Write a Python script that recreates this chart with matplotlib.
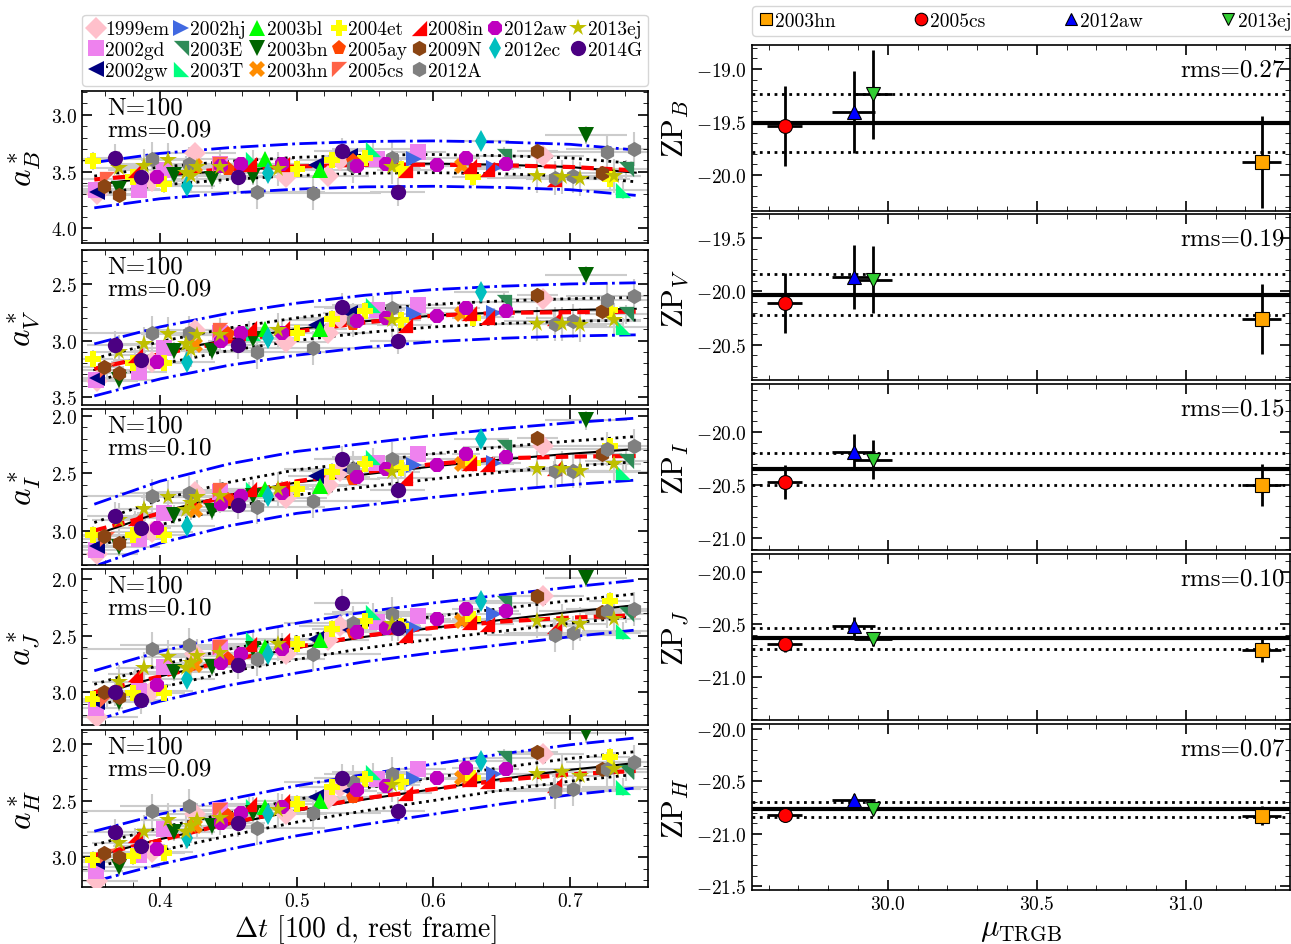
import numpy as np
import matplotlib.pyplot as plt
from matplotlib.lines import Line2D
from matplotlib.ticker import MultipleLocator

plt.rcParams.update({
    'font.family': 'serif', 'font.serif': ['cmr10'],
    'mathtext.fontset': 'cm', 'axes.formatter.use_mathtext': True,
    'xtick.direction': 'in', 'ytick.direction': 'in',
    'xtick.top': True, 'ytick.right': True,
    'xtick.major.size': 7, 'ytick.major.size': 7,
    'xtick.minor.size': 3.5, 'ytick.minor.size': 3.5,
    'xtick.major.width': 1.2, 'ytick.major.width': 1.2,
    'axes.linewidth': 1.2,
})

# ---- supernova styles ----
tri_tr = [(-1, 1), (1, 1), (1, -1), (-1, 1)]
tri_bl = [(-1, -1), (1, -1), (-1, 1), (-1, -1)]
tri_tl = [(-1, 1), (1, 1), (-1, -1), (-1, 1)]
tri_br = [(-1, -1), (1, -1), (1, 1), (-1, -1)]

sn_names = ['1999em', '2002gd', '2002gw', '2002hj', '2003E', '2003T', '2003bl',
            '2003bn', '2003hn', '2004et', '2005ay', '2005cs', '2008in', '2009N',
            '2012A', '2012aw', '2012ec', '2013ej', '2014G']
sn_colors = ['pink', 'violet', 'navy', 'royalblue', 'seagreen', 'springgreen', 'lime',
             'darkgreen', 'darkorange', 'yellow', 'orangered', 'tomato', 'red',
             'saddlebrown', 'gray', 'm', 'c', 'y', 'indigo']
sn_markers = ['D', 's', '<', '>', tri_tr, tri_bl, '^', 'v', 'X', 'P', 'p', tri_tl,
              tri_br, 'h', 'h', '8', 'd', '*', 'o']

# ---- epochs (Delta t, 100 d) ----
epoch = {
    '1999em': [0.354, 0.394, 0.426, 0.492, 0.523, 0.532, 0.680],
    '2002gd': [0.353, 0.385, 0.403, 0.444, 0.559, 0.589],
    '2002gw': [0.354, 0.514, 0.539],
    '2002hj': [0.586, 0.644],
    '2003E': [0.652, 0.741],
    '2003T': [0.468, 0.556, 0.739],
    '2003bl': [0.477, 0.517],
    '2003bn': [0.370, 0.410, 0.438, 0.468, 0.712],
    '2003hn': [0.426, 0.621],
    '2004et': [0.351, 0.380, 0.403, 0.500, 0.526, 0.550, 0.576, 0.629, 0.729],
    '2005ay': [0.450, 0.541],
    '2005cs': [0.361, 0.444],
    '2008in': [0.382, 0.465, 0.489, 0.579, 0.626, 0.639, 0.688],
    '2009N': [0.359, 0.370, 0.676, 0.723],
    '2012A': [0.394, 0.421, 0.471, 0.512, 0.541, 0.570, 0.689, 0.702, 0.727, 0.747],
    '2012aw': [0.398, 0.445, 0.459, 0.489, 0.544, 0.565, 0.603, 0.624, 0.653],
    '2012ec': [0.420, 0.479, 0.635],
    '2013ej': [0.370, 0.388, 0.406, 0.419, 0.423, 0.427, 0.444, 0.486, 0.570, 0.676,
               0.694, 0.707, 0.732],
    '2014G': [0.367, 0.386, 0.457, 0.533, 0.574],
}

a_B = {
    '1999em': [3.70, 3.58, 3.34, 3.55, 3.54, 3.40, 3.36],
    '2002gd': [3.66, 3.66, 3.49, 3.43, 3.39, 3.33],
    '2002gw': [3.68, 3.44, 3.36],
    '2002hj': [3.39, 3.47],
    '2003E': [3.36, 3.48],
    '2003T': [3.39, 3.30, 3.66],
    '2003bl': [3.39, 3.49],
    '2003bn': [3.65, 3.53, 3.57, 3.54, 3.18],
    '2003hn': [3.45, 3.45],
    '2004et': [3.405, 3.55, 3.61, 3.48, 3.40, 3.38, 3.48, 3.55, 3.57],
    '2005ay': [3.48, 3.41],
    '2005cs': [3.57, 3.43],
    '2008in': [3.49, 3.43, 3.43, 3.49, 3.45, 3.48, 3.57],
    '2009N': [3.63, 3.71, 3.32, 3.51],
    '2012A': [3.39, 3.43, 3.68, 3.69, 3.45, 3.38, 3.56, 3.54, 3.33, 3.30],
    '2012aw': [3.55, 3.45, 3.43, 3.43, 3.45, 3.43, 3.44, 3.38, 3.43],
    '2012ec': [3.63, 3.51, 3.23],
    '2013ej': [3.47, 3.45, 3.40, 3.51, 3.54, 3.46, 3.46, 3.48, 3.46, 3.54, 3.55, 3.57, 3.54],
    '2014G': [3.38, 3.55, 3.55, 3.32, 3.68],
}

a_V = {
    '1999em': [3.36, 3.19, 2.91, 3.01, 2.93, 2.80, 2.63],
    '2002gd': [3.35, 3.28, 3.07, 2.93, 2.73, 2.69],
    '2002gw': [3.33, 2.86, 2.76],
    '2002hj': [2.77, 2.76],
    '2003E': [2.66, 2.77],
    '2003T': [2.93, 2.685, 2.88],
    '2003bl': [2.90, 2.90],
    '2003bn': [3.35, 3.09, 3.09, 2.99, 2.42],
    '2003hn': [3.04, 2.77],
    '2004et': [3.16, 3.20, 3.20, 2.93, 2.81, 2.74, 2.82, 2.80, 2.73],
    '2005ay': [2.94, 2.85],
    '2005cs': [3.26, 2.91],
    '2008in': [3.13, 2.89, 2.885, 2.86, 2.76, 2.79, 2.80],
    '2009N': [3.23, 3.29, 2.60, 2.74],
    '2012A': [2.935, 2.93, 3.10, 3.07, 2.82, 2.71, 2.85, 2.83, 2.64, 2.61],
    '2012aw': [3.19, 3.00, 2.935, 2.93, 2.83, 2.80, 2.78, 2.71, 2.74],
    '2012ec': [3.19, 2.98, 2.57],
    '2013ej': [3.10, 3.03, 2.94, 3.03, 3.08, 2.95, 2.95, 2.91, 2.82, 2.85, 2.85, 2.86, 2.82],
    '2014G': [3.04, 3.17, 3.04, 2.70, 3.00],
}

a_I = {
    '1999em': [3.20, 3.01, 2.665, 2.72, 2.60, 2.48, 2.26],
    '2002gd': [3.17, 3.07, 2.85, 2.66, 2.41, 2.33],
    '2002gw': [3.13, 2.52, 2.47],
    '2002hj': [2.43, 2.41],
    '2003E': [2.27, 2.39],
    '2003T': [2.64, 2.36, 2.49],
    '2003bl': [2.64, 2.61],
    '2003bn': [3.14, 2.86, 2.83, 2.70, 2.04],
    '2003hn': [2.82, 2.42],
    '2004et': [3.04, 3.04, 3.04, 2.64, 2.49, 2.42, 2.45, 2.41, 2.26],
    '2005ay': [2.73, 2.55],
    '2005cs': [3.07, 2.65],
    '2008in': [2.89, 2.64, 2.63, 2.54, 2.41, 2.42, 2.45],
    '2009N': [3.05, 3.11, 2.19, 2.33],
    '2012A': [2.70, 2.67, 2.79, 2.74, 2.46, 2.38, 2.48, 2.48, 2.29, 2.26],
    '2012aw': [2.98, 2.77, 2.70, 2.67, 2.53, 2.46, 2.43, 2.33, 2.36],
    '2012ec': [2.96, 2.70, 2.20],
    '2013ej': [2.91, 2.81, 2.71, 2.82, 2.76, 2.71, 2.70, 2.64, 2.49, 2.46, 2.46, 2.48, 2.42],
    '2014G': [2.87, 2.98, 2.78, 2.38, 2.65],
}

a_J = {
    '1999em': [3.22, 2.99, 2.66, 2.66, 2.54, 2.41, 2.15],
    '2002gd': [3.14, 2.99, 2.78, 2.60, 2.38, 2.33],
    '2002gw': [3.09, 2.53, 2.45],
    '2002hj': [2.43, 2.31],
    '2003E': [2.21, 2.31],
    '2003T': [2.53, 2.29, 2.46],
    '2003bl': [2.60, 2.54],
    '2003bn': [3.09, 2.82, 2.78, 2.62, 1.99],
    '2003hn': [2.76, 2.37],
    '2004et': [3.06, 3.01, 3.01, 2.57, 2.44, 2.37, 2.41, 2.35, 2.19],
    '2005ay': [2.71, 2.47],
    '2005cs': [3.07, 2.60],
    '2008in': [2.84, 2.57, 2.54, 2.49, 2.38, 2.40, 2.41],
    '2009N': [3.00, 3.04, 2.15, 2.29],
    '2012A': [2.62, 2.58, 2.71, 2.66, 2.39, 2.31, 2.49, 2.48, 2.28, 2.26],
    '2012aw': [2.94, 2.74, 2.66, 2.62, 2.47, 2.43, 2.35, 2.26, 2.28],
    '2012ec': [2.88, 2.66, 2.19],
    '2013ej': [2.91, 2.79, 2.69, 2.79, 2.74, 2.68, 2.65, 2.57, 2.40, 2.37, 2.37, 2.40, 2.35],
    '2014G': [3.00, 3.07, 2.76, 2.21, 2.43],
}

a_H = {
    '1999em': [3.21, 2.95, 2.62, 2.62, 2.49, 2.38, 2.09],
    '2002gd': [3.12, 2.98, 2.75, 2.58, 2.31, 2.22],
    '2002gw': [3.04, 2.47, 2.42],
    '2002hj': [2.31, 2.27],
    '2003E': [2.13, 2.25],
    '2003T': [2.55, 2.25, 2.38],
    '2003bl': [2.56, 2.50],
    '2003bn': [3.08, 2.78, 2.72, 2.61, 1.91],
    '2003hn': [2.72, 2.30],
    '2004et': [3.02, 2.99, 2.96, 2.53, 2.385, 2.31, 2.34, 2.30, 2.12],
    '2005ay': [2.64, 2.47],
    '2005cs': [2.99, 2.58],
    '2008in': [2.80, 2.53, 2.50, 2.43, 2.31, 2.33, 2.36],
    '2009N': [2.96, 3.00, 2.07, 2.22],
    '2012A': [2.59, 2.55, 2.74, 2.61, 2.34, 2.27, 2.42, 2.40, 2.22, 2.16],
    '2012aw': [2.93, 2.70, 2.61, 2.56, 2.41, 2.37, 2.30, 2.21, 2.22],
    '2012ec': [2.83, 2.62, 2.15],
    '2013ej': [2.87, 2.78, 2.67, 2.78, 2.72, 2.67, 2.65, 2.58, 2.36, 2.27, 2.25, 2.28, 2.22],
    '2014G': [2.78, 2.90, 2.70, 2.30, 2.59],
}

# typical errors per SN (epoch, a*)
epoch_err = [0.03, 0.02, 0.02, 0.02, 0.03, 0.03, 0.02, 0.03, 0.02, 0.015,
             0.02, 0.02, 0.02, 0.015, 0.05, 0.01, 0.02, 0.02, 0.02]
a_err = [0.06, 0.06, 0.06, 0.05, 0.08, 0.08, 0.06, 0.08, 0.06, 0.08,
         0.06, 0.06, 0.06, 0.06, 0.15, 0.05, 0.08, 0.15, 0.12]

# ---- fitted curves ----
x_curve = [0.352, 0.40, 0.45, 0.50, 0.55, 0.60, 0.65, 0.70, 0.748]
fit_mean = {
    'B': [3.62, 3.54, 3.49, 3.455, 3.435, 3.43, 3.44, 3.46, 3.51],
    'V': [3.26, 3.11, 2.99, 2.90, 2.83, 2.78, 2.75, 2.73, 2.72],
    'I': [3.04, 2.84, 2.69, 2.58, 2.51, 2.44, 2.38, 2.33, 2.29],
    'J': [3.03, 2.86, 2.72, 2.61, 2.51, 2.43, 2.36, 2.29, 2.23],
    'H': [2.99, 2.84, 2.71, 2.59, 2.49, 2.40, 2.31, 2.23, 2.17],
}
fit_red = {
    'B': [3.57, 3.52, 3.48, 3.455, 3.44, 3.44, 3.445, 3.46, 3.49],
    'V': [3.25, 3.12, 3.01, 2.92, 2.84, 2.78, 2.755, 2.75, 2.745],
    'I': [3.00, 2.85, 2.70, 2.57, 2.49, 2.42, 2.37, 2.355, 2.35],
    'J': [3.00, 2.86, 2.72, 2.60, 2.50, 2.43, 2.375, 2.34, 2.32],
    'H': [2.98, 2.85, 2.70, 2.58, 2.48, 2.40, 2.32, 2.27, 2.24],
}
band_rms = [0.08, 0.10, 0.11, 0.10, 0.10]
band_wide = [0.20, 0.23, 0.27, 0.22, 0.22]
rms_text = ['0.09', '0.09', '0.10', '0.10', '0.09']
bands = ['B', 'V', 'I', 'J', 'H']
a_data = [a_B, a_V, a_I, a_J, a_H]
left_ylim = [(4.13, 2.79), (3.57, 2.20), (3.30, 1.94), (3.29, 1.91), (3.26, 1.88)]

# ---- TRGB calibrators ----
cal_names = ['2003hn', '2005cs', '2012aw', '2013ej']
cal_colors = ['orange', 'red', 'blue', 'limegreen']
cal_markers = ['s', 'o', '^', 'v']
mu_trgb = [31.255, 29.654, 29.886, 29.950]
mu_err = [0.065, 0.058, 0.072, 0.065]
zp = [[-19.877, -19.54, -19.405, -19.24],
      [-20.26, -20.11, -19.87, -19.89],
      [-20.50, -20.47, -20.19, -20.26],
      [-20.74, -20.686, -20.52, -20.64],
      [-20.83, -20.82, -20.68, -20.765]]
zp_err = [[0.43, 0.375, 0.39, 0.42],
          [0.33, 0.28, 0.30, 0.31],
          [0.20, 0.16, 0.17, 0.18],
          [0.12, 0.08, 0.09, 0.07],
          [0.09, 0.03, 0.06, 0.03]]
zp_mean = [-19.51, -20.03, -20.35, -20.63, -20.77]
zp_rms = [0.27, 0.19, 0.15, 0.10, 0.07]
right_ylim = [(-20.34, -18.774), (-20.83, -19.276), (-21.113, -19.547),
              (-21.41, -19.83), (-21.538, -19.957)]

W, H = 1291, 945
fig = plt.figure(figsize=(W / 100, H / 100), dpi=100)

left_tops = [92, 251, 410, 570, 731]
left_h = [152, 155, 156, 156, 157]
right_tops = [46, 215, 385, 555, 725]

for k, band in enumerate(bands):
    ax = fig.add_axes([82 / W, 1 - (left_tops[k] + left_h[k]) / H, 566 / W, left_h[k] / H])
    for i, sn in enumerate(sn_names):
        ax.errorbar(epoch[sn], a_data[k][sn], xerr=epoch_err[i], yerr=a_err[i],
                    fmt='none', ecolor='#cccccc', elinewidth=1.5, zorder=1)
    m = np.array(fit_mean[band])
    ax.plot(x_curve, m + band_wide[k], 'b-.', lw=2, zorder=2)
    ax.plot(x_curve, m - band_wide[k], 'b-.', lw=2, zorder=2)
    ax.plot(x_curve, m + band_rms[k], 'k:', lw=2, zorder=2)
    ax.plot(x_curve, m - band_rms[k], 'k:', lw=2, zorder=2)
    ax.plot(x_curve, m, 'k-', lw=1.5, zorder=2)
    ax.plot(x_curve, fit_red[band], color='red', ls=(0, (3, 1.5)), lw=3, zorder=2)
    for i, sn in enumerate(sn_names):
        ms = 13 if sn_markers[i] == '*' else 11
        ax.plot(epoch[sn], a_data[k][sn], ls='none', marker=sn_markers[i],
                color=sn_colors[i], ms=ms, mew=0, zorder=3)
    ax.text(0.045, 0.965, 'N=100\nrms=' + rms_text[k], transform=ax.transAxes,
            va='top', ha='left', fontsize=18, linespacing=1.0)
    ax.set_xlim(0.343, 0.757)
    ax.set_ylim(*left_ylim[k])
    ax.xaxis.set_major_locator(MultipleLocator(0.1))
    ax.xaxis.set_minor_locator(MultipleLocator(0.02))
    ax.yaxis.set_major_locator(MultipleLocator(0.5))
    ax.yaxis.set_minor_locator(MultipleLocator(0.1))
    ax.tick_params(which='both', labelsize=14)
    ax.set_ylabel(r'$a^*_{%s}$' % band, fontsize=24, labelpad=6)
    if k < 4:
        ax.set_xticklabels([])
    else:
        ax.set_xlabel(r'$\Delta t$ [100 d, rest frame]', fontsize=20, labelpad=2)

    # right column
    axr = fig.add_axes([752 / W, 1 - (right_tops[k] + 166) / H, 538 / W, 166 / H])
    axr.axhline(zp_mean[k], color='k', lw=3, zorder=1)
    axr.axhline(zp_mean[k] + zp_rms[k], color='k', ls=':', lw=2, zorder=1)
    axr.axhline(zp_mean[k] - zp_rms[k], color='k', ls=':', lw=2, zorder=1)
    for j in range(4):
        axr.errorbar(mu_trgb[j], zp[k][j], xerr=mu_err[j], yerr=zp_err[k][j],
                     fmt=cal_markers[j], color=cal_colors[j], mec='k', mew=0.8,
                     ms=10, ecolor='k', elinewidth=2, capsize=0, zorder=3)
    axr.text(0.99, 0.855, 'rms=%.2f' % zp_rms[k], transform=axr.transAxes,
             va='center', ha='right', fontsize=18)
    axr.set_xlim(29.544, 31.35)
    axr.set_ylim(*right_ylim[k])
    axr.xaxis.set_major_locator(MultipleLocator(0.5))
    axr.xaxis.set_minor_locator(MultipleLocator(0.1))
    axr.yaxis.set_major_locator(MultipleLocator(0.5))
    axr.yaxis.set_minor_locator(MultipleLocator(0.1))
    axr.tick_params(which='both', labelsize=14)
    axr.set_ylabel(r'$\mathrm{ZP}_{%s}$' % band, fontsize=22, labelpad=4)
    if k < 4:
        axr.set_xticklabels([])
    else:
        axr.set_xlabel(r'$\mu_{\mathrm{TRGB}}$', fontsize=22, labelpad=2)

# legends
h_left = [Line2D([], [], ls='none', marker=sn_markers[i], color=sn_colors[i],
                 ms=(13 if sn_markers[i] == '*' else 11), mew=0)
          for i in range(len(sn_names))]
fig.legend(h_left, sn_names, loc='lower left', ncol=7, mode='expand',
           bbox_to_anchor=(82 / W, 1 - 87 / H, 566 / W, 76 / H), borderaxespad=0,
           fontsize=14, handlelength=0.8, handletextpad=0.1, labelspacing=0.15,
           columnspacing=0.2, borderpad=0.3, edgecolor='#cccccc')

h_right = [Line2D([], [], ls='none', marker=cal_markers[j], color=cal_colors[j],
                  mec='k', mew=0.8, ms=9) for j in range(4)]
fig.legend(h_right, cal_names, loc='lower left', ncol=4, mode='expand',
           bbox_to_anchor=(752 / W, 1 - 37 / H, 545 / W, 32 / H), borderaxespad=0,
           fontsize=14, handlelength=0.8, handletextpad=0.1, borderpad=0.3,
           edgecolor='#cccccc')

fig.savefig('out.png', dpi=100)
